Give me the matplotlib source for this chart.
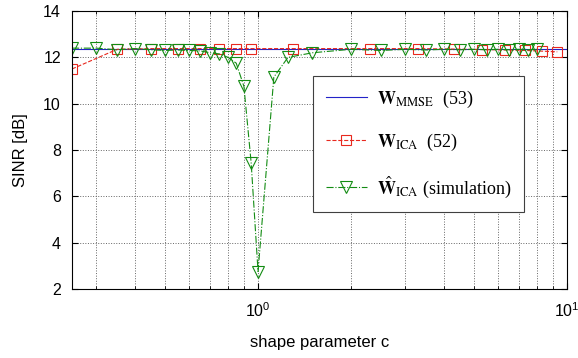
import matplotlib
matplotlib.use("Agg")
import matplotlib.pyplot as plt
from matplotlib.ticker import FixedLocator, NullFormatter

plt.rcParams['font.family'] = ['Liberation Sans', 'DejaVu Sans']
plt.rcParams['mathtext.fontset'] = 'stix'

# W_MMSE (53)
c_mmse = [0.25, 0.5, 1.0, 2.0, 5.0, 10.0]
sinr_mmse = [12.38, 12.38, 12.38, 12.38, 12.38, 12.38]

# W_ICA (52)
c_ica = [0.25, 0.35, 0.45, 0.55, 0.65, 0.75, 0.85, 0.95,
         1.3, 2.3, 3.3, 4.3, 5.3, 6.3, 7.3, 8.3, 9.3]
sinr_ica = [11.5, 12.35, 12.38, 12.38, 12.38, 12.38, 12.38, 12.38,
            12.38, 12.38, 12.38, 12.36, 12.34, 12.32, 12.3, 12.27, 12.24]

# W_ICA hat (simulation)
c_sim = [0.25, 0.3, 0.35, 0.4, 0.45, 0.5, 0.55, 0.6, 0.65, 0.7, 0.75, 0.8,
         0.85, 0.9, 0.95, 1.0, 1.125, 1.25, 1.5, 2.0, 2.5, 3.0, 3.5, 4.0,
         4.5, 5.0, 5.5, 6.0, 6.5, 7.0, 7.5, 8.0]
sinr_sim = [12.4, 12.4, 12.33, 12.38, 12.33, 12.3, 12.32, 12.3, 12.28, 12.2,
            12.15, 12.0, 11.75, 10.75, 7.45, 2.75, 11.15, 12.0, 12.2, 12.35,
            12.3, 12.35, 12.32, 12.35, 12.33, 12.35, 12.33, 12.35, 12.33,
            12.35, 12.33, 12.35]

fig = plt.figure(figsize=(5.78, 3.58), dpi=100)
ax = fig.add_axes([0.1246, 0.193, 0.8564, 0.776])

ax.semilogx(c_mmse, sinr_mmse, color='#2323c8', lw=0.8,
            label=r'$\mathbf{W}_{\rm MMSE}\ $ (53)')
ax.semilogx(c_ica, sinr_ica, color='#e8281e', lw=0.8, ls='--',
            marker='s', ms=7.5, mfc='none', mew=0.8,
            label=r'$\mathbf{W}_{\rm ICA}\ $ (52)')
ax.semilogx(c_sim, sinr_sim, color='#138c13', lw=0.8, ls='-.',
            marker='v', ms=8, mfc='none', mew=0.8,
            label=r'$\hat{\mathbf{W}}_{\rm ICA}$ (simulation)')

ax.set_xlim(0.25, 10)
ax.set_ylim(2, 14)
ax.set_yticks([2, 4, 6, 8, 10, 12, 14])
ax.set_xticks([1, 10])
ax.set_xticklabels([r'$\mathregular{10^0}$', r'$\mathregular{10^1}$'])
ax.xaxis.set_minor_locator(FixedLocator([0.3, 0.4, 0.5, 0.6, 0.7, 0.8, 0.9,
                                         2, 3, 4, 5, 6, 7, 8, 9]))
ax.xaxis.set_minor_formatter(NullFormatter())
ax.tick_params(which='both', direction='in', top=True, right=True,
               labelsize=11.5)
ax.tick_params(which='major', length=4)
ax.tick_params(which='minor', length=2)
ax.tick_params(axis='x', which='major', pad=9)
ax.tick_params(axis='y', which='major', pad=8)
ax.grid(True, which='both', axis='x', ls=':', color='0.4', lw=0.7)
ax.grid(True, which='major', axis='y', ls=':', color='0.4', lw=0.7)

ax.set_xlabel('shape parameter c', fontsize=12, labelpad=11)
ax.set_ylabel('SINR [dB]', fontsize=12, labelpad=11)

leg = ax.legend(loc='upper left', bbox_to_anchor=(0.487, 0.766),
                borderaxespad=0, fancybox=False, framealpha=1,
                edgecolor='0.25', handlelength=2.3, labelspacing=1.2,
                borderpad=0.7, handletextpad=0.55,
                prop={'family': 'Liberation Serif', 'size': 13})
leg.get_frame().set_linewidth(0.8)

fig.savefig('out.png', dpi=100)
